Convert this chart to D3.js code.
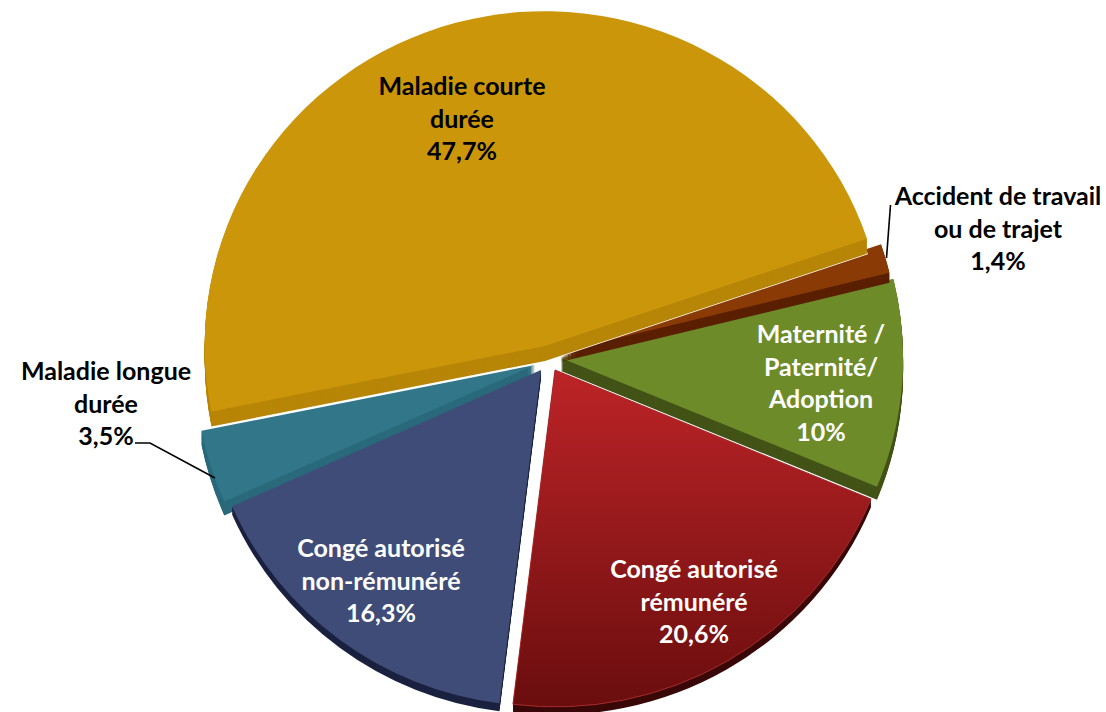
<!DOCTYPE html>
<html>
<head>
<meta charset="utf-8">
<script src="https://cdn.jsdelivr.net/npm/d3@7"></script>
<style>
    html, body { margin: 0; padding: 0; background: #fff; overflow: hidden; }
    text { font-family: Lato, "Open Sans", sans-serif; font-weight: 700; font-size: 25px; }
</style>
</head>
<body>
<svg class="pie-chart" width="1106" height="712"></svg>
<script>
// data, clockwise from the big slice
var categories = ["Maladie courte durée", "Accident de travail ou de trajet", "Maternité / Paternité/ Adoption", "Congé autorisé rémunéré", "Congé autorisé non-rémunéré", "Maladie longue durée"];
var values = [47.7, 1.4, 10, 20.6, 16.3, 3.5];
var valueLabels = ["47,7%", "1,4%", "10%", "20,6%", "16,3%", "3,5%"];
var labelLines = [
    ["Maladie courte", "durée"],
    ["Accident de travail", "ou de trajet"],
    ["Maternité /", "Paternité/", "Adoption"],
    ["Congé autorisé", "rémunéré"],
    ["Congé autorisé", "non-rémunéré"],
    ["Maladie longue", "durée"]
];

// look of the slices
var topColors = ["#cc960a", "#8a3b05", "#6e8b2a", "url(#red-fade)", "#3f4c78", "#327789"];
var sideColors = ["#b88607", "#5a2000", "#435317", "#3a0808", "#1b2240", "#2a6a7c"];
var textColors = ["#000", "#000", "#fff", "#fff", "#fff", "#000"];

// where each slice sits: centre, radii, thickness
var centers = [[545, 346], [560, 352], [561, 358], [555, 370], [541, 370], [535, 365]];
var radiiX = [340, 339, 342, 342, 338, 340];
var radiiY = [334, 336, 336, 337, 336, 336];
var depths = [15, 10, 13, 8, 8, 14];

// label block: centre x, first baseline
var labelAnchors = [[462, 95], [998, 205], [821, 343], [694, 578], [381, 557], [106, 380]];
var lineStep = 32.5;

var leaders = [
    { slice: 1, points: [[890.5, 205], [886.5, 258]] },
    { slice: 5, points: [[135, 443], [150, 443], [215, 478]] }
];

var svg = d3.select(".pie-chart");

// bounding box units: the slices are drawn in a scaled unit circle
var grad = svg.append("defs").append("linearGradient")
    .attr("id", "red-fade")
    .attr("x1", 0).attr("y1", 0)
    .attr("x2", 0).attr("y2", 1);
grad.append("stop").attr("offset", 0).attr("stop-color", "#bd2427");
grad.append("stop").attr("offset", 1).attr("stop-color", "#6a0d0e");

var startAngle = 258.7 * Math.PI / 180;
var pie = d3.pie().sort(null)
    .startAngle(startAngle)
    .endAngle(startAngle + 2 * Math.PI);

var slices = pie(values);
var arc = d3.arc().innerRadius(0).outerRadius(1);

// back to front, big slice goes last so its side covers the others
var drawOrder = [5, 4, 3, 2, 1, 0];

var pieGroup = svg.append("g").attr("class", "slices");

drawOrder.forEach(function(i) {
    var g = pieGroup.append("g").attr("class", "slice");

    function place(dy) {
        return "translate(" + centers[i][0] + "," + (centers[i][1] + dy) + ") scale(" + radiiX[i] + "," + radiiY[i] + ")";
    }

    // thin white seam under the yellow slice
    if (i === 0) {
        g.append("path")
            .attr("d", arc(slices[i]))
            .attr("transform", place(depths[i]))
            .attr("fill", "#fff")
            .attr("stroke", "#fff")
            .attr("stroke-width", 1.5)
            .attr("vector-effect", "non-scaling-stroke");
    }

    // side wall: copies of the slice going down
    d3.range(depths[i], 0, -1).forEach(function(dy) {
        g.append("path")
            .attr("d", arc(slices[i]))
            .attr("transform", place(dy))
            .attr("fill", sideColors[i]);
    });

    var top = g.append("path")
        .attr("d", arc(slices[i]))
        .attr("transform", place(0))
        .attr("fill", topColors[i]);

    // the red slice has a thin lighter rim
    if (i === 3) {
        top.attr("stroke", "#a82a2a")
            .attr("stroke-width", 1)
            .attr("vector-effect", "non-scaling-stroke");
    }
});

var line = d3.line();
svg.append("g").attr("class", "leaders")
    .selectAll("path")
    .data(leaders)
    .enter().append("path")
    .attr("d", function(d) { return line(d.points); })
    .attr("fill", "none")
    .attr("stroke", "#000")
    .attr("stroke-width", 1.6);

var labels = svg.append("g").attr("class", "labels")
    .selectAll("text")
    .data(categories)
    .enter().append("text")
    .attr("text-anchor", "middle")
    .attr("fill", function(d, i) { return textColors[i]; });

labels.each(function(d, i) {
    var rows = labelLines[i].concat(valueLabels[i]);
    d3.select(this).selectAll("tspan")
        .data(rows)
        .enter().append("tspan")
        .attr("x", labelAnchors[i][0])
        .attr("y", function(r, k) { return labelAnchors[i][1] + k * lineStep; })
        .text(function(r) { return r; });
});
</script>
</body>
</html>
